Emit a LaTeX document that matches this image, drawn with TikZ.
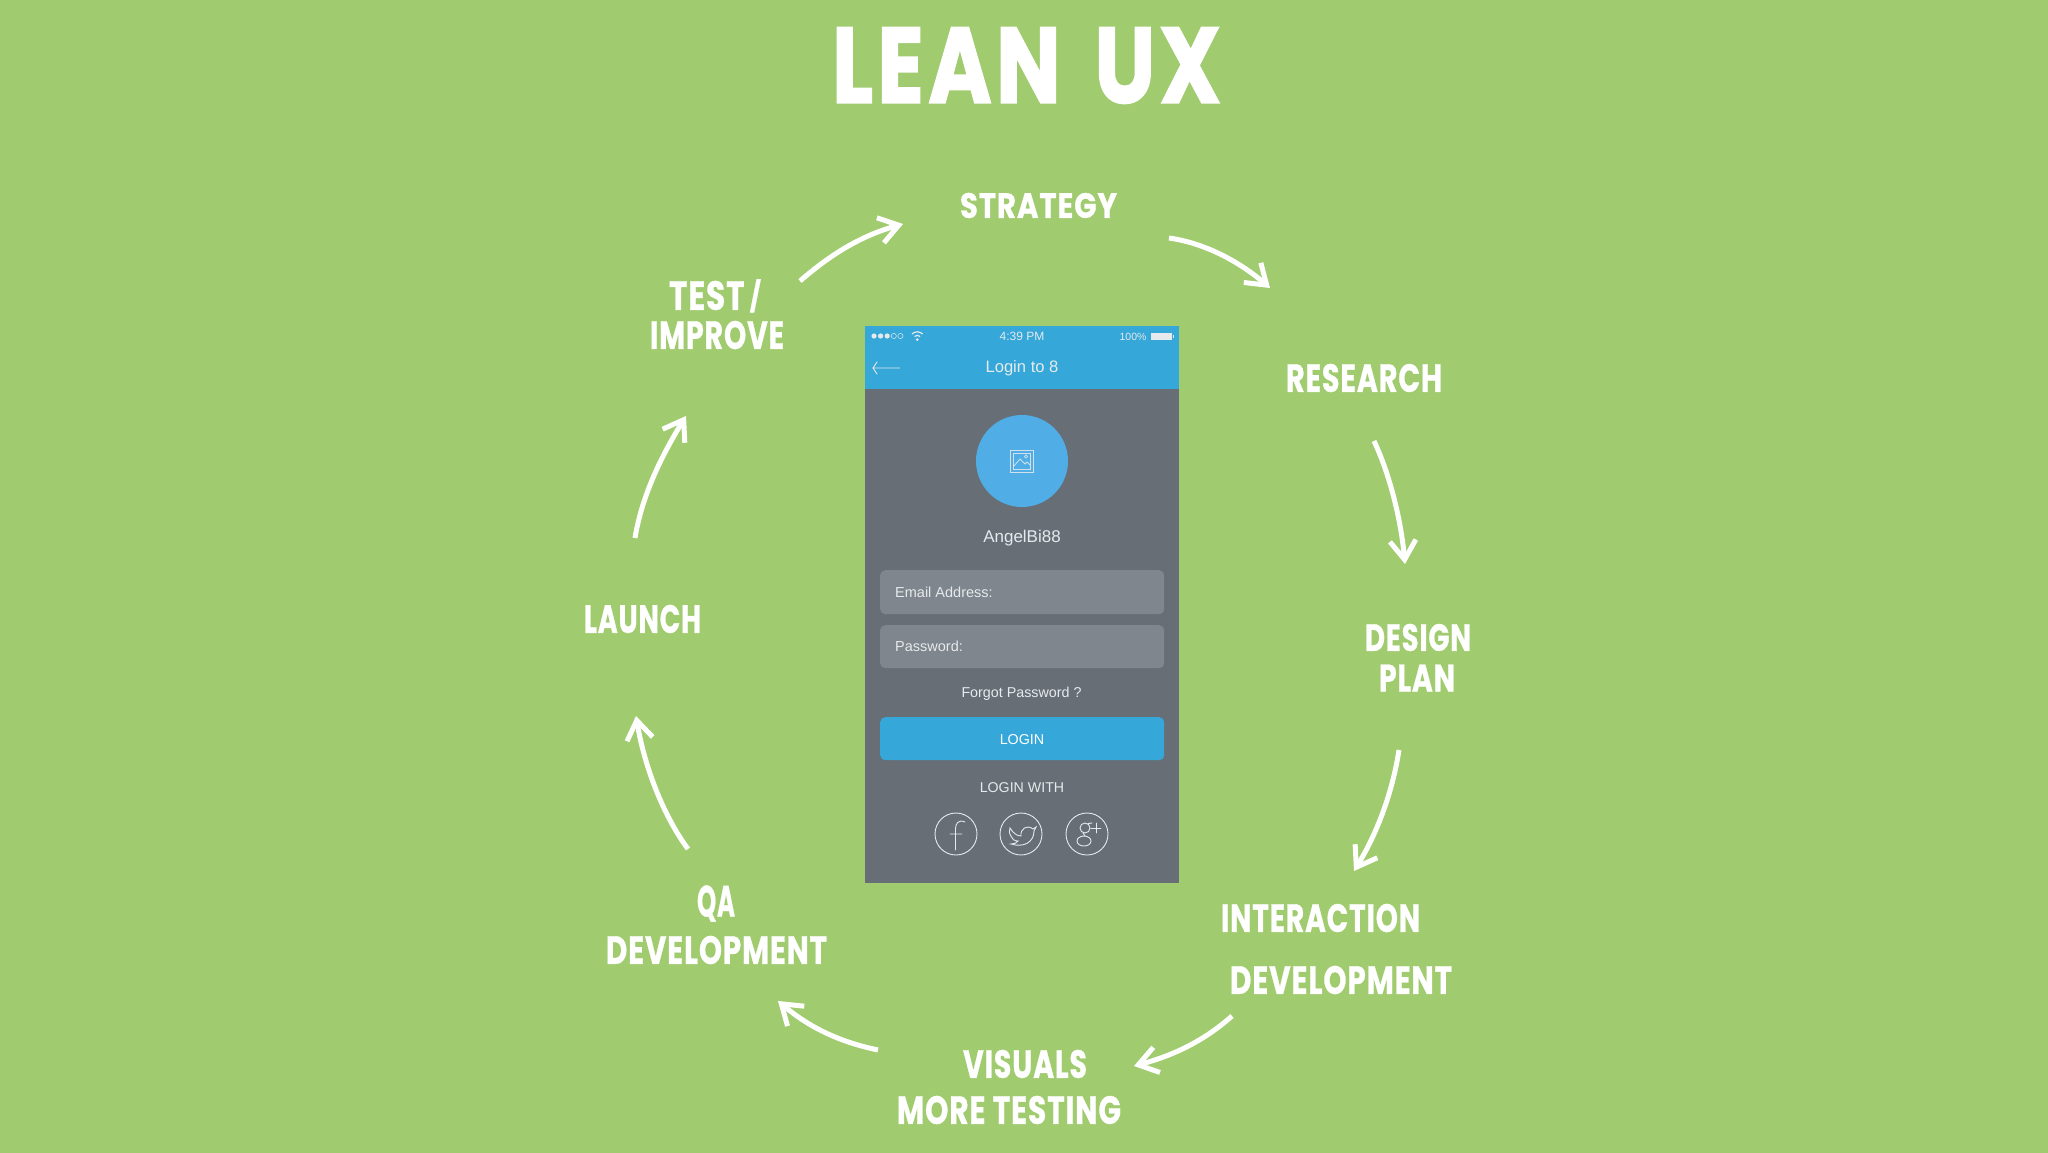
\documentclass[tikz,border=0pt]{standalone}
\usepackage{fontspec}
\usepackage{graphicx}
\usetikzlibrary{arrows.meta}
\setmainfont{Liberation Sans}
\newfontfamily\headfont{Poppins}[UprightFont=* Bold,FakeBold=0.9,LetterSpace=3]
\newfontfamily\titlefont{Poppins}[UprightFont=* Bold,FakeBold=1.8,LetterSpace=5]
\definecolor{bgc}{HTML}{A0CB6E}
\definecolor{blueh}{HTML}{35A7D8}
\definecolor{grayp}{HTML}{676E76}
\definecolor{fieldc}{HTML}{80868E}
\definecolor{circc}{HTML}{51ADE5}
\definecolor{txtc}{HTML}{E6EAEC}
\newcommand{\fitted}[3]{\resizebox{#1pt}{#2pt}{\headfont #3}}
\tikzset{
  x=1pt,y=-1pt,
  lab/.style={text=white,inner sep=0pt,outer sep=0pt},
  ui/.style={text=txtc,inner sep=0pt,font=\fontsize{14.5}{15}\selectfont},
  cyc/.style={draw=white,line width=5pt,
    -{Straight Barb[length=19pt,width=26pt,line width=5pt]}},
  field/.style={fill=fieldc,rounded corners=5pt,inner sep=0pt,minimum width=284pt,anchor=north west},
  icon/.style={draw=txtc,line width=0.9pt,line cap=round},
}
\begin{document}
\begin{tikzpicture}
\useasboundingbox (0,0) rectangle (2048,1152);
\fill[bgc] (-3,-3) rectangle (2051,1155);
% phone
\node[fill=grayp,inner sep=0pt,minimum width=314pt,minimum height=557pt,anchor=north west] (phone) at (865,326) {};
\node[fill=blueh,inner sep=0pt,minimum width=314pt,minimum height=63pt,anchor=north west] (header) at (865,326) {};
\node[ui,font=\fontsize{12}{12}\selectfont] (time) at (1022,336.5) {4:39 PM};
\node[ui,font=\fontsize{10.5}{11}\selectfont] (pct) at (1133,336.5) {100\%};
\foreach \i in {0,1,2} \fill[txtc] (874+\i*6.6,336) circle (2.6);
\foreach \i in {3,4} \draw[txtc,line width=.5pt] (874+\i*6.6,336) circle (2.6);
\draw[txtc,line width=1.2pt] (912,334) arc[start angle=225,end angle=315,radius=7.5]
  (914.5,336.5) arc[start angle=225,end angle=315,radius=4];
\fill[txtc] (917.3,339.6) circle (1.5);
\fill[txtc] (1151,332.5) rectangle (1172,339.5);
\fill[txtc] (1173,334.5) rectangle (1174,337.5);
\draw[txtc,line width=.9pt,line cap=round] (900,368) -- (873,368) (877,362) -- (873,368) -- (877,374);
\node[ui,font=\fontsize{16.6}{17}\selectfont] (title2) at (1022,368) {Login to 8};
\node[fill=circc,circle,inner sep=0pt,minimum size=92pt] (avatar) at (1022,461) {};
\draw[txtc!85!circc,line width=1pt] (1010.5,450.5) rectangle (1033,472);
\draw[txtc!85!circc,line width=.8pt] (1013.5,453.5) rectangle (1030,469);
\draw[txtc!85!circc,line width=.8pt] (1014,466) -- (1020,459) -- (1025,464) -- (1027,462) -- (1030,465);
\draw[txtc!85!circc,line width=.7pt] (1026,456.5) circle (1.6);
\node[ui,font=\fontsize{17}{17}\selectfont] (user) at (1022,538.5) {AngelBi88};
\node[field,minimum height=44pt] (email) at (880,570) {};
\node[ui,anchor=west] (emailt) at (895,592.5) {Email Address:};
\node[field,minimum height=43pt] (pass) at (880,625) {};
\node[ui,anchor=west] (passt) at (895,646.5) {Password:};
\node[ui,font=\fontsize{14.3}{15}\selectfont] (forgot) at (1021.5,694) {Forgot Password ?};
\node[field,fill=blueh,minimum height=43pt] (login) at (880,717) {};
\node[ui,font=\fontsize{14.3}{15}\selectfont,text=white] (logint) at (1022,739.5) {LOGIN};
\node[ui,font=\fontsize{14.2}{15}\selectfont] (with) at (1022,787.5) {LOGIN WITH};
\node[circle,icon,minimum size=42pt,inner sep=0pt] (fb) at (956,834) {};
\node[circle,icon,minimum size=42pt,inner sep=0pt] (tw) at (1021,834) {};
\node[circle,icon,minimum size=42pt,inner sep=0pt] (gp) at (1087,834) {};
% f
\draw[icon] (965,822) .. controls (958,819) and (955.5,824) .. (955.5,829) -- (955.5,850) (950,834) -- (962,834);
% bird
\draw[icon] (1010,828) .. controls (1013,833) and (1017,836) .. (1021,836)
  .. controls (1020,829) and (1027,824) .. (1033,829) -- (1036,827) -- (1034,831)
  .. controls (1034,842) and (1024,848) .. (1011,844) .. controls (1014,844) and (1017,843) .. (1018,841)
  .. controls (1014,841) and (1012,839) .. (1011,836) .. controls (1009,833) and (1009,831) .. (1010,828) -- cycle;
% g+
\draw[icon] (1085,828) ellipse (5 and 5);
\draw[icon] (1084,841) ellipse (7 and 5);
\draw[icon] (1088,823.5) -- (1092,823) (1083,833) -- (1085,836);
\draw[icon] (1091,828) -- (1101,828) (1096,823) -- (1096,833);
% labels
\node[lab] (main) at (1026.5,65.5) {\resizebox{389pt}{75pt}{\titlefont LEAN\hspace{.13em} UX}};
\node[lab] (strategy) at (1038.5,205.5) {\fitted{157}{25}{STRATEGY}};
\node[lab] (research) at (1364,378) {\fitted{156}{28}{RESEARCH}};
\node[lab] (design) at (1418,637.5) {\fitted{106}{27}{DESIGN}};
\node[lab] (plan) at (1417,678) {\fitted{76}{27}{PLAN}};
\node[lab] (inter) at (1320.5,918) {\fitted{199}{28}{INTERACTION}};
\node[lab] (devb) at (1341,980) {\fitted{222}{28}{DEVELOPMENT}};
\node[lab] (visuals) at (1025,1064) {\fitted{124}{28}{VISUALS}};
\node[lab] (more) at (1009,1110) {\fitted{224}{28}{MORE TESTING}};
\node[lab] (qa) at (716,903.5) {\fitted{38}{31}{QA}};
\node[lab] (deva) at (716.5,950) {\fitted{221}{28}{DEVELOPMENT}};
\node[lab] (launch) at (642.5,619) {\fitted{117}{28}{LAUNCH}};
\node[lab] (test) at (715,295.5) {\fitted{92}{29}{TEST\,\smash{\raisebox{.07em}{\scalebox{.8}[.72]{/}}}}};
\node[lab] (improve) at (717,335) {\fitted{134}{28}{IMPROVE}};
% connector ends
\foreach \n/\a/\b in {a1s/800/281,a1e/903/224,a2s/1169/238,a2e/1270/288,a3s/1374/441,a3e/1405/564,
  a4s/1399/750,a4e/1354/871,a5s/1232/1016,a5e/1134/1066,a6s/878/1050,a6e/778/1001,
  a7s/688/849,a7e/636/716,a8s/635/538,a8e/686/416}
  \coordinate (\n) at (\a,\b);
\draw[cyc] (a1s) .. controls (830,255) and (860,236) .. (a1e);
\draw[cyc] (a2s) .. controls (1205,243) and (1240,262) .. (a2e);
\draw[cyc] (a3s) .. controls (1390,475) and (1401,520) .. (a3e);
\draw[cyc] (a4s) .. controls (1392,795) and (1376,835) .. (a4e);
\draw[cyc] (a5s) .. controls (1205,1040) and (1175,1055) .. (a5e);
\draw[cyc] (a6s) .. controls (840,1042) and (810,1028) .. (a6e);
\draw[cyc] (a7s) .. controls (665,818) and (645,770) .. (a7e);
\draw[cyc] (a8s) .. controls (642,495) and (662,455) .. (a8e);
\end{tikzpicture}
\end{document}
